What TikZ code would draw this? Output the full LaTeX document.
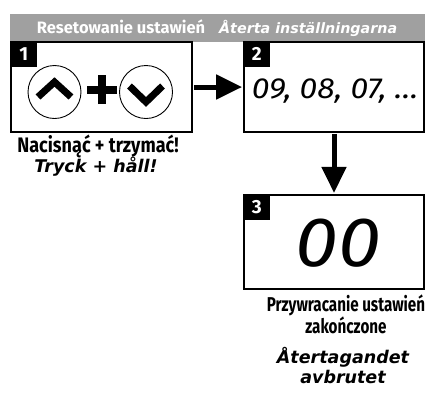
\documentclass[tikz,border=0pt]{standalone}
\usepackage{fontspec}
\setmainfont{Fira Sans}
\newfontfamily\condfont[FakeStretch=0.76]{Fira Sans}
\newfontfamily\holdfont[FakeStretch=0.86]{Fira Sans}
\newfontfamily\widefont{DejaVu Sans}
\newfontfamily\digitfont[FakeStretch=1.1]{Fira Sans}
\usetikzlibrary{arrows.meta,positioning}

\definecolor{bannergray}{RGB}{160,160,160}

\tikzset{
  stepbox/.style={draw, line width=1.8pt, minimum width=180pt, minimum height=90pt, inner sep=0pt},
  badge/.style={fill=black, text=white, font=\bfseries\fontsize{19}{19}\selectfont,
    minimum width=27pt, minimum height=26pt, inner sep=0pt, anchor=north west},
  button/.style={draw, circle, line width=0.9pt, minimum size=53pt, inner sep=0pt},
  chevron/.style={line width=7pt, miter limit=10},
  bigarrow/.style={line width=5pt, -{Triangle[width=24pt,length=26pt]}, shorten <=1pt, shorten >=1pt},
  capt/.style={align=center, font=\condfont\bfseries\fontsize{20}{21}\selectfont},
  swcapt/.style={align=center, font=\widefont\bfseries\itshape\fontsize{17.5}{20}\selectfont},
}

\begin{document}
\begin{tikzpicture}[x=1pt, y=-1pt]
    \useasboundingbox (0,0) rectangle (425,408);

    % Banner
    \fill[bannergray] (10,14) rectangle (425,42);
    \node[text=white] (title) at (217,28)
      {\bfseries\fontsize{16.5}{15}\selectfont Resetowanie ustawień\hspace{14pt}%
       \widefont\bfseries\itshape\fontsize{14.3}{15}\selectfont Återta inställningarna};

    % Step boxes
    \node[stepbox, minimum width=181pt] (box1) at (101.5,87) {};
    \node[stepbox] (box2) at (334,87) {};
    \node[stepbox, minimum height=94pt, below=61pt of box2] (box3) {};

    % Number badges
    \node[badge] (num1) at (box1.north west) {1};
    \node[badge] (num2) at (box2.north west) {2};
    \node[badge] (num3) at (box3.north west) {3};

    % Buttons
    \node[button] (upbtn) at (54.5,92) {};
    \node[button] (downbtn) at (146,92) {};
    \coordinate (plus) at (102,89.5);
    \draw[chevron] ([shift={(-16.5,5)}]upbtn.center) -- ([shift={(0,-10)}]upbtn.center)
        -- ([shift={(16.5,5)}]upbtn.center);
    \draw[chevron] ([shift={(-16.5,-6)}]downbtn.center) -- ([shift={(0,10)}]downbtn.center)
        -- ([shift={(16.5,-6)}]downbtn.center);
    \draw[line width=8pt] ([xshift=-15pt]plus) -- ([xshift=15pt]plus);
    \draw[line width=8pt] ([yshift=-14.5pt]plus) -- ([yshift=14.5pt]plus);

    % Display readings
    \node[font=\digitfont\itshape\fontsize{29}{29}\selectfont] (count) at (335,91) {09, 08, 07, \dots};
    \node[font=\digitfont\itshape\fontsize{70}{70}\selectfont] (zero) at (338,243) {00};

    % Arrows
    \draw[bigarrow] (box1) -- (box2);
    \draw[bigarrow] (box2) -- (box3);

    % Captions
    \node[capt, font=\holdfont\bfseries\fontsize{21}{21}\selectfont] (hold) at (98,146) {Nacisnąć + trzymać!};
    \node[swcapt] (holdsv) at (96,167) {Tryck + håll!};
    \node[capt] (done) at (346,314) {Przywracanie ustawień\\zakończone};
    \node[swcapt] (donesv) at (343,365) {Återtagandet\\avbrutet};

\end{tikzpicture}
\end{document}
